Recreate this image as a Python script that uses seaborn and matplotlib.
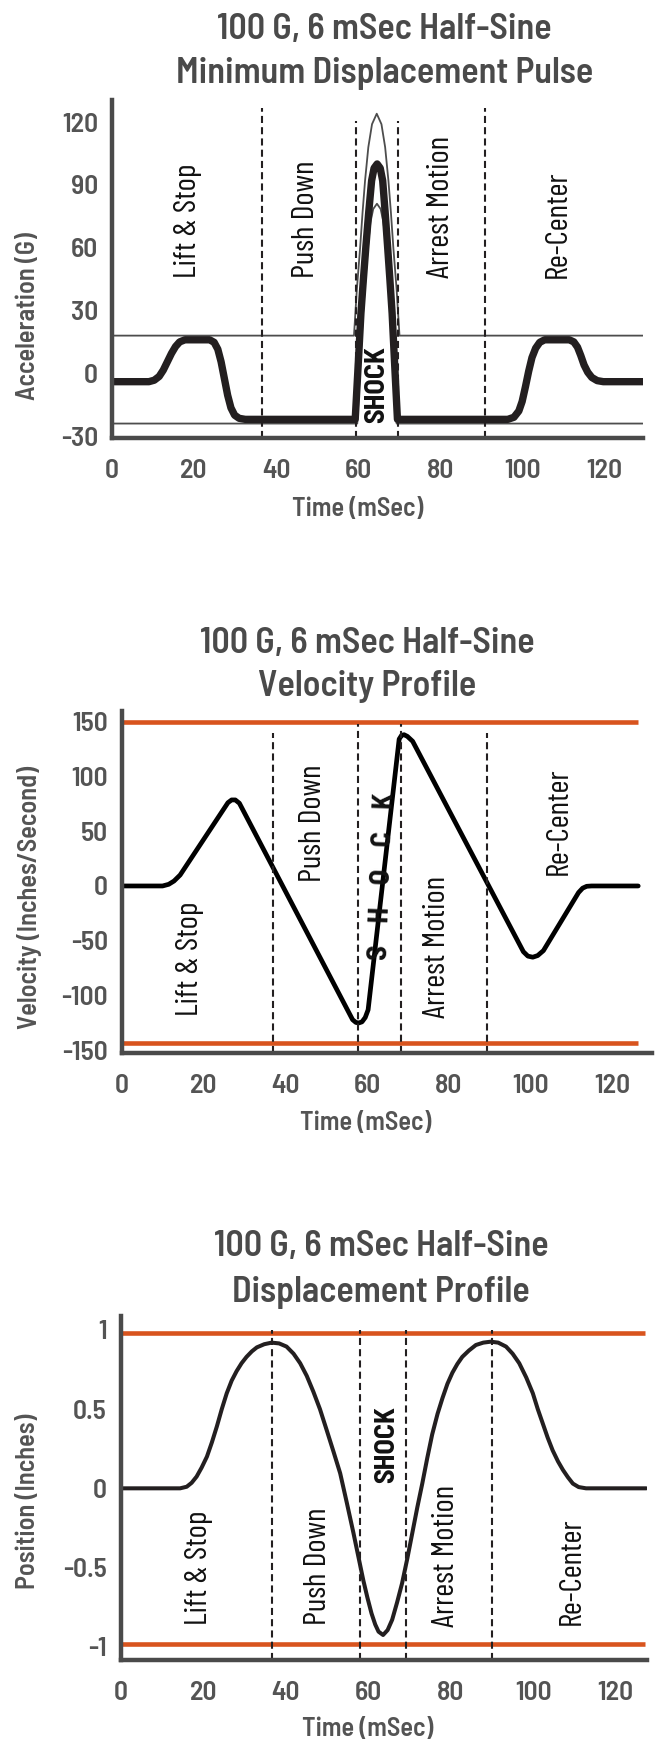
import os
import matplotlib
matplotlib.use("Agg")
import matplotlib.pyplot as plt
import seaborn as sns
from matplotlib import font_manager as fm

# ---------------- data ----------------
# Chart 1: acceleration pulse (G) vs time (mSec)
acc_t = [0, 9.0, 10.3, 11.5, 12.5, 13.5, 14.5, 15.5, 16.5, 17.8, 23.8, 24.9, 25.8, 26.6,
         27.4, 28.2, 29.0, 29.9, 31.0, 32.5,
         59.3, 60.0, 60.7, 61.3, 61.9, 62.6, 63.3, 63.9, 64.65, 65.4, 66.0, 66.6, 67.2,
         67.75, 68.3, 68.9, 69.6,
         96.5, 98.0, 99.2, 100.0, 100.8, 101.6, 102.4, 103.3, 104.3, 105.5, 111.5, 112.6,
         113.5, 114.3, 115.1, 116.0, 117.0, 118.3, 119.8, 129.4]
acc_v = [-4, -4, -3.3, -1.5, 1.5, 5.5, 9.5, 12.8, 15, 16, 16, 14.8, 11.5, 5.5,
         -2.5, -10.5, -16.5, -20, -21.5, -22,
         -22, 3, 28.7, 45, 60.5, 77, 92, 98, 100, 98, 92, 77, 60.5,
         45, 28.7, 5, -22,
         -22, -21, -18, -13.5, -6.5, 1, 7.5, 12, 14.8, 16, 16, 15,
         12.5, 8.5, 4, 0.5, -2, -3.5, -4, -4]
upper_t = [0, 59.0, 59.7, 60.5, 61.1, 61.7, 62.5, 63.4, 64.55, 65.7, 66.6, 67.4, 68.0,
           68.6, 69.4, 70.1, 129.4]
upper_v = [18, 18, 40, 60, 77, 92, 108, 119, 124, 119, 108, 92, 77, 60, 40, 18, 18]
lower_t = [0, 59.8, 60.5, 61.2, 61.8, 62.4, 63.0, 63.7, 64.6, 65.5, 66.2, 66.8, 67.4,
           68.0, 68.7, 69.4, 129.4]
lower_v = [-24, -24, 3, 28.7, 45, 60.5, 72, 78.5, 81, 78.5, 72, 60.5, 45, 28.7, 3, -24, -24]
acc_phase_t = [36.5, 59.4, 69.7, 90.9]
acc_phase_top = [126.5, 120.5, 120.5, 126.5]
acc_yticks = [-30, 0, 30, 60, 90, 120]

# Chart 2: velocity (in/s)
vel_t = [0, 10.0, 11.5, 12.8, 14.3, 26.0, 26.9, 27.8, 28.8, 56.5, 57.3, 58.0, 58.8, 59.6,
         60.3, 67.9, 68.5, 69.1, 69.9, 71.2, 98.3, 99.4, 100.6, 101.8, 103.2, 111.8,
         112.8, 113.8, 115.0, 126.4]
vel_v = [0, 0, 1.5, 4.5, 10, 76, 78.5, 78.5, 75.5, -122, -124.5, -125, -124, -120,
         -113, 134, 137.5, 138, 136.5, 132, -60, -64, -65, -63.5, -59, -6,
         -2, -0.3, 0, 0]
vel_limits = [150, -143]
vel_phase_t = [37.1, 57.8, 68.3, 89.3]
vel_phase_top = [140, 148, 148, 140]
vel_yticks = [-150, -100, -50, 0, 50, 100, 150]

# Chart 3: displacement (inches)
disp_t = [0, 14.4, 16.0, 17.2, 18.4, 19.6, 20.9, 22.1, 23.3, 24.5, 25.7, 26.9, 28.1, 29.3,
          30.5, 31.8, 33.0, 34.8, 36.6, 38.4, 40.2, 41.9, 43.5, 45.1, 46.7, 48.3, 49.9,
          51.6, 53.2, 54.8, 56.4, 57.6, 58.8, 59.8, 60.8, 61.7, 62.5, 63.6, 64.7, 65.8,
          67.0, 68.2, 69.5, 70.7, 71.9, 73.1, 74.3, 75.5, 76.8, 78.0, 79.2, 80.4, 81.6,
          82.8, 84.4, 86.1, 87.9, 89.7, 91.5, 93.4, 95.0, 96.6, 98.3, 99.9, 101.1,
          102.3, 103.5, 104.7, 106.0, 107.2, 108.4, 109.6, 111.0, 112.8, 127.4]
disp_v = [0, 0, 0.01, 0.035, 0.074, 0.13, 0.20, 0.29, 0.39, 0.50, 0.60, 0.68, 0.74, 0.79,
          0.83, 0.865, 0.89, 0.91, 0.92, 0.915, 0.895, 0.85, 0.79, 0.71, 0.61, 0.50, 0.37,
          0.23, 0.095, -0.09, -0.28, -0.43, -0.58, -0.69, -0.79, -0.86, -0.905, -0.926,
          -0.895, -0.83, -0.72, -0.60, -0.44, -0.28, -0.12, 0.03, 0.19, 0.34, 0.47, 0.57,
          0.66, 0.73, 0.785, 0.83, 0.87, 0.905, 0.92, 0.926, 0.92, 0.895, 0.85, 0.79,
          0.70, 0.60, 0.50, 0.41, 0.32, 0.24, 0.17, 0.116, 0.07, 0.03, 0.008, 0, 0]
disp_limits = [0.98, -0.98]
disp_phase_t = [36.6, 57.9, 69.05, 90.0]
disp_phase_top = [1.0, 1.0, 1.0, 1.0]
disp_yticks = [-1, -0.5, 0, 0.5, 1]
disp_yticklabels = ["-1", "-0.5", "0", "0.5", "1"]

xticks = [0, 20, 40, 60, 80, 100, 120]
title_top = "100 G, 6 mSec Half-Sine"
subtitles = ["Minimum Displacement Pulse", "Velocity Profile", "Displacement Profile"]
ylabels = ["Acceleration (G)", "Velocity (Inches/Second)", "Position (Inches)"]
xlabel = "Time (mSec)"
phases = ["Lift & Stop", "Push Down", "Arrest Motion", "Re-Center"]

# ---------------- fonts ----------------
sns.set_theme(style="white")
plt.rcParams["font.family"] = ["Roboto Condensed", "Roboto", "DejaVu Sans"]

_files = {os.path.basename(f.fname): f.fname for f in fm.fontManager.ttflist}


def _font(candidates, fallback_weight):
    for c in candidates:
        if c in _files:
            return fm.FontProperties(fname=_files[c])
    return fm.FontProperties(family=["Roboto", "DejaVu Sans"], weight=fallback_weight)


FP_B = _font(["BarlowSemiCondensed-SemiBold.ttf", "RobotoCondensed-Bold.ttf",
              "PT_Sans-Narrow-Web-Bold.ttf"], "bold")
FP_K = _font(["BarlowSemiCondensed-Bold.ttf", "RobotoCondensed-Bold.ttf"], "bold")
FP_R = _font(["BarlowCondensed-Regular.ttf", "RobotoCondensed-Regular.ttf",
              "PT_Sans-Narrow-Web-Regular.ttf"], "normal")

GRAY = "#4a4a4a"
LBL = "#545454"
INK = "#231f20"
ORANGE = "#d8541e"

W, H = 659, 1743
fig = plt.figure(figsize=(W / 100, H / 100), dpi=100)
_r = fig.canvas.get_renderer()


def fit(base, sample, target_px):
    """font properties whose rendering of `sample` is `target_px` wide"""
    p = base.copy()
    p.set_size(20)
    t = fig.text(0, 0, sample, fontproperties=p)
    w = t.get_window_extent(_r).width
    t.remove()
    p.set_size(20 * target_px / w)
    return p


F_TITLE = fit(FP_B, title_top, 333)
F_AXLAB = fit(FP_B, "Acceleration (G)", 168)
F_TICK = fit(FP_B, "120", 36)
F_REG = fit(FP_R, "Arrest Motion", 142)
F_SHOCK = fit(FP_K, "SHOCK", 77)


def axes_px(l, r, t, b):
    return fig.add_axes([l / W, 1 - b / H, (r - l) / W, (b - t) / H])


def style(ax, xlim, ylim, yticks, ytl):
    ax.set_xlim(*xlim)
    ax.set_ylim(*ylim)
    ax.set_xticks(xticks, [str(v) for v in xticks], fontproperties=F_TICK, color=LBL)
    ax.set_yticks(yticks, ytl, fontproperties=F_TICK, color=LBL)
    sns.despine(ax=ax)
    for s in ("left", "bottom"):
        ax.spines[s].set_linewidth(3.2)
        ax.spines[s].set_color(GRAY)
    ax.tick_params(axis="both", direction="in", length=4, width=1.3, color=GRAY)
    ax.tick_params(axis="x", pad=15)
    ax.tick_params(axis="y", pad=10)
    ax.set_xlabel("")
    ax.set_ylabel("")
    ax.grid(False)


def ftext(x, y, s, **kw):
    fig.text(x / W, 1 - y / H, s, **kw)


def titles(cx, b1, b2, sub):
    ftext(cx, b1, title_top, ha="center", va="baseline", fontproperties=F_TITLE,
          color=GRAY)
    ftext(cx, b2, sub, ha="center", va="baseline", fontproperties=F_TITLE, color=GRAY)


def labels(ylab, yx, yy, xx, xy):
    ftext(yx, yy, ylab, rotation=90, ha="center", va="center", fontproperties=F_AXLAB,
          color=LBL)
    ftext(xx, xy, xlabel, ha="center", va="center", fontproperties=F_AXLAB, color=LBL)


def region(ax, x, y, s, bold=False, rot=90):
    ax.text(x, y, s, rotation=rot, ha="center", va="bottom",
            fontproperties=F_SHOCK if bold else F_REG, color="#111111")


dash = (0, (3.4, 2.0))

# ---------------- chart 1 ----------------
ax1 = axes_px(112, 642.7, 100.1, 438.2)
sns.lineplot(x=upper_t, y=upper_v, ax=ax1, color="#4d4d4d", linewidth=1.3,
             estimator=None, sort=False)
sns.lineplot(x=lower_t, y=lower_v, ax=ax1, color="#4d4d4d", linewidth=1.3,
             estimator=None, sort=False)
sns.lineplot(x=acc_t, y=acc_v, ax=ax1, color=INK, linewidth=5.3, estimator=None,
             sort=False, solid_joinstyle="round", solid_capstyle="round")
ax1.vlines(acc_phase_t, -31, acc_phase_top, colors=INK, linewidth=1.5, linestyles=dash)
style(ax1, (0, 129.4), (-31, 130.5), acc_yticks, [str(v) for v in acc_yticks])
for x, s in zip([18.6, 47.3, 80.2, 108.8], phases):
    region(ax1, x, 45.4, s)
region(ax1, 64.6, -23.9, "SHOCK", bold=True)
titles(384.5, 39, 83, subtitles[0])
labels(ylabels[0], 28, 316, 357.5, 509)

# ---------------- chart 2 ----------------
ax2 = axes_px(121.7, 651.7, 710.6, 1053)
ax2.hlines(vel_limits, 0, 126.4, colors=ORANGE, linewidth=3.3)
sns.lineplot(x=vel_t, y=vel_v, ax=ax2, color="#000000", linewidth=3.4, estimator=None,
             sort=False, solid_joinstyle="round", solid_capstyle="round")
ax2.vlines(vel_phase_t, -152.4, vel_phase_top, colors=INK, linewidth=1.5, linestyles=dash)
style(ax2, (0, 129.7), (-152.4, 160), vel_yticks, [str(v) for v in vel_yticks])
region(ax2, 16.7, -119, phases[0])
region(ax2, 46.7, 3.9, phases[1])
region(ax2, 77.1, -120.7, phases[2])
region(ax2, 106.9, 10, phases[3])
region(ax2, 63.9, -67.5, "S    H    O    C    K", bold=True, rot=88)
titles(367.5, 652.7, 696, subtitles[1])
labels(ylabels[1], 30, 897, 365.8, 1123)

# ---------------- chart 3 ----------------
ax3 = axes_px(120.7, 646.7, 1315.7, 1660)
ax3.hlines(disp_limits, 0, 127, colors=ORANGE, linewidth=3.3)
sns.lineplot(x=disp_t, y=disp_v, ax=ax3, color=INK, linewidth=2.9, estimator=None,
             sort=False, solid_joinstyle="round", solid_capstyle="round")
ax3.vlines(disp_phase_t, -1.084, disp_phase_top, colors=INK, linewidth=1.5,
           linestyles=dash)
style(ax3, (0, 127.5), (-1.084, 1.09), disp_yticks, disp_yticklabels)
region(ax3, 19.0, -0.863, phases[0])
region(ax3, 47.9, -0.863, phases[1])
region(ax3, 78.9, -0.874, phases[2])
region(ax3, 109.4, -0.863, phases[3])
region(ax3, 64.5, 0.032, "SHOCK", bold=True)
titles(381, 1256, 1301.7, subtitles[2])
labels(ylabels[2], 28, 1501, 367.8, 1729)

fig.savefig("out.png", dpi=100)
